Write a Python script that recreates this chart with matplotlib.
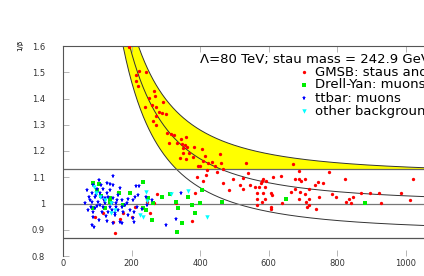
import numpy as np
import matplotlib
matplotlib.use("Agg")
import matplotlib.pyplot as plt

plt.rcParams["font.family"] = ["DejaVu Sans"]

# --- chart values (momentum in GeV, 1/beta) ---
stau_mass = 242.9
band_half = 0.11
cut_hi = 1.13
cut_lo = 0.87

gmsb_p = [192, 213, 222, 242, 213, 219, 265, 251, 268, 292, 259, 239, 271, 280, 289, 300, 271,
          262, 271, 303, 315, 324, 344, 359, 309, 332, 347, 356, 350, 361, 382, 405, 350, 367,
          341, 359, 379, 414, 458, 408, 423, 434, 394, 399, 443, 461, 533, 670, 466, 420, 449,
          417, 391, 539, 496, 525, 583, 688, 775, 612, 635, 676, 688, 705, 822, 1020, 580, 592,
          694, 577, 743, 758, 516, 545, 735, 589, 571, 560, 717, 525, 676, 566, 583, 665, 691,
          606, 705, 609, 784, 746, 796, 869, 895, 921, 985, 566, 589, 688, 717, 834, 845, 708,
          638, 580, 825, 840, 927, 1012, 566, 606, 606, 717, 711, 738, 484, 466, 408, 160, 274,
          245, 265, 210, 254, 201, 175, 166, 152, 93, 117, 385, 376, 329, 146]
gmsb_invbeta = [1.596, 1.490, 1.505, 1.501, 1.467, 1.448, 1.429, 1.402, 1.410, 1.387, 1.375,
                1.368, 1.368, 1.349, 1.345, 1.341, 1.333, 1.314, 1.299, 1.269, 1.265, 1.261,
                1.246, 1.253, 1.231, 1.231, 1.227, 1.223, 1.211, 1.215, 1.215, 1.208, 1.192,
                1.192, 1.173, 1.170, 1.177, 1.181, 1.189, 1.162, 1.154, 1.158, 1.143, 1.143,
                1.143, 1.154, 1.154, 1.151, 1.131, 1.128, 1.120, 1.109, 1.101, 1.116, 1.093,
                1.097, 1.093, 1.124, 1.120, 1.101, 1.105, 1.093, 1.093, 1.093, 1.093, 1.093,
                1.086, 1.086, 1.086, 1.078, 1.082, 1.078, 1.071, 1.071, 1.071, 1.063, 1.063,
                1.063, 1.055, 1.055, 1.055, 1.040, 1.040, 1.044, 1.044, 1.040, 1.036, 1.032,
                1.036, 1.025, 1.025, 1.040, 1.040, 1.040, 1.040, 1.017, 1.017, 1.017, 1.017,
                1.017, 1.025, 1.006, 1.002, 1.006, 1.006, 1.002, 1.002, 1.013, 0.994, 0.987,
                0.979, 0.994, 0.987, 0.979, 1.051, 1.078, 1.086, 1.044, 1.036, 1.006, 1.002,
                0.987, 0.964, 0.949, 0.964, 0.941, 0.888, 0.949, 0.964, 1.040, 0.933, 1.002,
                0.930]

dy_p = [87, 105, 99, 233, 195, 163, 248, 289, 312, 262, 329, 335, 364, 376, 399, 385, 259,
        347, 332, 175, 137, 242, 233, 405, 463, 650, 880, 137, 122, 87, 111]
dy_invbeta = [1.078, 1.074, 1.051, 1.082, 1.040, 1.040, 1.021, 1.025, 1.036, 1.002, 1.006,
              0.983, 1.025, 0.994, 1.002, 0.964, 0.937, 0.926, 0.891, 0.994, 1.006, 0.975,
              0.983, 1.051, 1.006, 1.017, 1.002, 1.021, 0.983, 0.983, 1.029]

tt_p = [146, 105, 128, 137, 146, 87, 99, 117, 85, 108, 128, 76, 93, 114, 131, 146, 85, 102,
        122, 143, 157, 172, 189, 204, 213, 222, 187, 82, 99, 117, 137, 154, 172, 87, 114, 131,
        152, 175, 87, 105, 128, 146, 166, 85, 90, 204, 207, 242, 259, 300, 344, 329, 207, 245,
        210, 219, 216, 172, 152, 79, 96, 108, 120, 137, 160, 181, 195, 73, 93, 125, 143, 160,
        64, 70, 111, 166, 230, 189, 122, 154]
tt_invbeta = [1.105, 1.090, 1.078, 1.074, 1.071, 1.071, 1.055, 1.055, 1.040, 1.040, 1.040,
              1.025, 1.025, 1.025, 1.025, 1.021, 1.006, 1.006, 1.002, 1.002, 1.013, 1.013,
              1.017, 1.013, 1.067, 1.067, 1.002, 0.987, 0.990, 0.987, 0.987, 0.987, 0.987,
              0.968, 0.968, 0.968, 0.964, 0.968, 0.949, 0.937, 0.933, 0.926, 0.930, 0.918,
              0.910, 0.945, 0.968, 1.025, 1.013, 0.918, 1.040, 0.941, 0.930, 0.994, 1.025,
              1.032, 0.987, 0.926, 0.956, 1.013, 1.032, 0.994, 1.013, 1.051, 1.032, 0.994,
              0.975, 0.975, 0.983, 0.952, 0.975, 0.975, 1.002, 1.051, 1.071, 1.059, 0.979,
              0.956, 1.021, 1.002]

other_p = [90, 108, 140, 152, 242, 245, 315, 364, 224, 233, 420, 96, 140, 122]
other_invbeta = [1.063, 1.025, 1.002, 0.975, 1.044, 1.010, 1.036, 1.048, 0.956, 0.949,
                 0.949, 1.040, 0.964, 1.013]

legend_labels = ["GMSB: staus and muons", "Drell-Yan: muons", "ttbar: muons",
                 "other backgrounds"]
y_ticks = [0.8, 0.9, 1.0, 1.1, 1.2, 1.3, 1.4, 1.5, 1.6]
y_tick_labels = ["0.8", "0.9", "1", "1.1", "1.2", "1.3", "1.4", "1.5", "1.6"]
x_ticks = [0, 200, 400, 600, 800, 1000]

W, H = 424, 276
fig = plt.figure(figsize=(W / 100, H / 100), dpi=100)
# axes continue past the right edge of the picture (cropped like the original)
x_max = 1100
ax = fig.add_axes([63 / W, 1 - 256 / H, x_max * 0.343 / W, 210 / H])
ax.set_xlim(0, x_max)
ax.set_ylim(0.8, 1.6)

# expected 1/beta for the stau mass, plus a band around it
p = np.linspace(60, 1300, 600)
inv_beta = np.sqrt(1 + (stau_mass / p) ** 2)
upper = inv_beta + band_half
lower = inv_beta - band_half
ax.fill_between(p, np.maximum(lower, cut_hi), upper, where=upper > cut_hi,
                color="#ffff00", lw=0, zorder=1)
for curve in (lower, inv_beta, upper):
    ax.plot(p, curve, color="#333333", lw=0.7, zorder=2)

ax.axhline(1.0, color="#777777", lw=0.9, zorder=2)
ax.axhline(cut_hi, color="#666666", lw=0.9, zorder=2)
ax.axhline(cut_lo, color="#555555", lw=0.9, zorder=2)

# data points
ax.plot(gmsb_p, gmsb_invbeta, "o", color="#ff0000", ms=2.4, mew=0, zorder=3)
ax.plot(dy_p, dy_invbeta, "s", color="#00ee00", ms=3.0, mew=0, zorder=4)
ax.plot(tt_p, tt_invbeta, "*", color="#0000ff", ms=3.6, mew=0, zorder=5)
ax.plot(other_p, other_invbeta, "v", color="#00ffff", ms=3.2, mew=0, zorder=6)

# title and legend written inside the axes
ax.text(200 / W, 1 - 63 / H, "\u039b=80 TeV; stau mass = 242.9 GeV", transform=fig.transFigure,
        fontsize=9.5, va="baseline", ha="left")
styles = [("o", "#ff0000", 2.4), ("s", "#00ee00", 3.0), ("*", "#0000ff", 3.6),
          ("v", "#00ffff", 3.2)]
for i, (label, (mk, col, ms)) in enumerate(zip(legend_labels, styles)):
    yrow = 72 + 13 * i
    ax.plot([304 / W], [1 - yrow / H], mk, color=col, ms=ms, mew=0,
            transform=fig.transFigure, clip_on=False)
    ax.text(315 / W, 1 - (yrow + 3.5) / H, label, transform=fig.transFigure,
            fontsize=9.5, va="baseline", ha="left")

fig.text(20 / W, 1 - 45 / H, "1/\u03b2", rotation=90, fontsize=5, ha="center", va="center")

# axis styling
ax.set_yticks(y_ticks)
ax.set_yticklabels(y_tick_labels)
ax.set_xticks(x_ticks)
ax.tick_params(axis="both", direction="in", length=4, width=0.6, color="#aaaaaa",
               labelsize=6, labelcolor="#333333")
ax.tick_params(axis="y", pad=13)
ax.tick_params(axis="x", pad=2, top=True)
for side in ("left", "top"):
    ax.spines[side].set_color("#555555")
    ax.spines[side].set_linewidth(0.8)
ax.spines["bottom"].set_visible(False)
ax.spines["right"].set_visible(False)

fig.savefig("out.png", dpi=100)
